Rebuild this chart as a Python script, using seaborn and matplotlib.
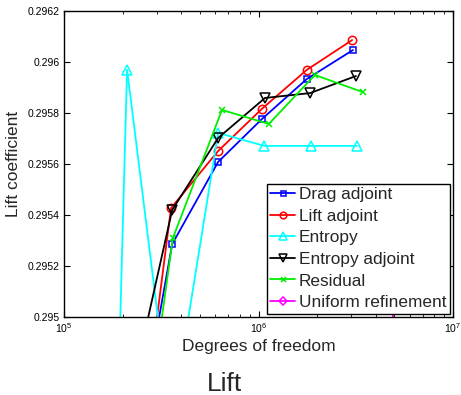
import matplotlib
matplotlib.use("Agg")
import matplotlib.pyplot as plt
import seaborn as sns
import pandas as pd
from matplotlib.ticker import LogLocator, FixedLocator, NullLocator, FormatStrFormatter

# data (degrees of freedom, lift coefficient)
drag_dof = [2.5e5, 3.6e5, 6.2e5, 1.04e6, 1.77e6, 3.06e6]
drag_cl = [0.29461, 0.295286, 0.295608, 0.295776, 0.295933, 0.296047]

lift_dof = [2.5e5, 3.55e5, 6.2e5, 1.04e6, 1.77e6, 3.03e6]
lift_cl = [0.29452, 0.295427, 0.295651, 0.295816, 0.295969, 0.296086]

entropy_dof = [1.9e5, 2.11e5, 3.56e5, 6.2e5, 1.07e6, 1.86e6, 3.2e6]
entropy_cl = [0.29470, 0.29597, 0.29458, 0.295722, 0.295671, 0.295671, 0.295671]

entadj_dof = [2.5e5, 3.6e5, 6.2e5, 1.08e6, 1.84e6, 3.17e6]
entadj_cl = [0.29488, 0.29542, 0.295702, 0.295859, 0.295878, 0.295945]

resid_dof = [2.5e5, 3.63e5, 6.49e5, 1.13e6, 1.95e6, 3.44e6]
resid_cl = [0.29442, 0.29531, 0.295812, 0.295757, 0.295949, 0.295882]

unif_dof = [3.6e5, 1.3e6, 5.1e6]
unif_cl = [0.2860, 0.2880, 0.2952]

series = [
    ("Drag adjoint", drag_dof, drag_cl, "#0000ff", "s", 4.5),
    ("Lift adjoint", lift_dof, lift_cl, "#ff0000", "o", 6),
    ("Entropy", entropy_dof, entropy_cl, "#00ffff", "^", 6.5),
    ("Entropy adjoint", entadj_dof, entadj_cl, "#000000", "v", 6.5),
    ("Residual", resid_dof, resid_cl, "#00ee00", "x", 4.5),
    ("Uniform refinement", unif_dof, unif_cl, "#ff00ff", "D", 5),
]

sns.set_style("ticks")
plt.rcParams["font.family"] = ["Liberation Sans", "DejaVu Sans"]
plt.rcParams["mathtext.fontset"] = "custom"
plt.rcParams["mathtext.rm"] = "Liberation Sans"

fig = plt.figure(figsize=(4.61, 3.95), dpi=100)
ax = fig.add_axes([64 / 461, 1 - 317 / 395, (453 - 64) / 461, (317 - 11) / 395])

for name, dof, cl, col, mk, ms in series:
    df = pd.DataFrame({"dof": dof, "cl": cl})
    sns.lineplot(data=df, x="dof", y="cl", ax=ax, color=col, marker=mk,
                 markersize=ms, markerfacecolor="none", markeredgecolor=col,
                 markeredgewidth=1.1, linewidth=1.3, label=name,
                 estimator=None, sort=False)

ax.set_xscale("log")
ax.set_xlim(1e5, 1e7)
ax.set_ylim(0.295, 0.2962)
ax.yaxis.set_major_locator(FixedLocator([0.295, 0.2952, 0.2954, 0.2956, 0.2958, 0.296, 0.2962]))
ax.yaxis.set_major_formatter(FormatStrFormatter("%g"))
ax.yaxis.set_minor_locator(NullLocator())
ax.xaxis.set_major_locator(LogLocator(base=10, numticks=5))
ax.xaxis.set_minor_locator(LogLocator(base=10, subs=range(2, 10), numticks=20))

ax.tick_params(which="both", direction="in", top=True, right=True, labelsize=7.5, colors="black")
ax.tick_params(which="major", length=4, width=0.8)
ax.tick_params(which="minor", length=2, width=0.6)
ax.tick_params(axis="x", pad=3)
ax.tick_params(axis="y", pad=3)
for s in ax.spines.values():
    s.set_linewidth(1.0)
    s.set_color("black")

ax.set_xlabel("Degrees of freedom", fontsize=12.5, labelpad=3)
ax.set_ylabel("Lift coefficient", fontsize=12.5, labelpad=5)

leg = ax.legend(loc="lower right", fontsize=12.4, frameon=True, fancybox=False,
                framealpha=1, edgecolor="black", borderaxespad=0.2,
                handlelength=1.45, handletextpad=0.2, labelspacing=0.38,
                borderpad=0.2, markerscale=0.8)
leg.get_frame().set_linewidth(1.0)

fig.text(0.487, 0.028, "Lift", fontsize=19, ha="center", va="center")

fig.savefig("out.png", dpi=100)
